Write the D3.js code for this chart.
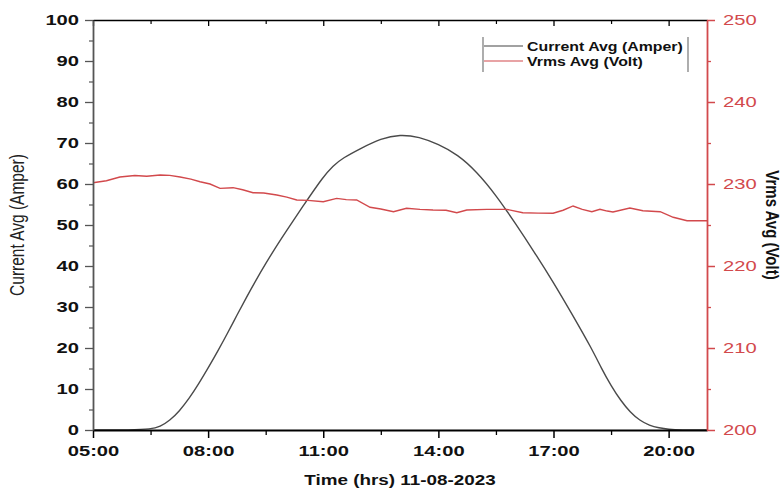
<!DOCTYPE html>
<html><head><meta charset="utf-8">
<script src="https://cdn.jsdelivr.net/npm/d3@7"></script>
<style>body{margin:0;background:#fff}svg{display:block}</style>
</head><body>
<svg id="c" width="783" height="493"></svg>
<script>
const xTicks = [5, 8, 11, 14, 17, 20];
const xMinor = [6.5, 9.5, 12.5, 15.5, 18.5];
const leftTicks = [0,10,20,30,40,50,60,70,80,90,100];
const rightTicks = [200,210,220,230,240,250];

const currentTime = [5,6,6.5,6.75,7,7.25,7.5,7.75,8,8.25,8.5,8.75,9,9.25,9.5,9.75,10,10.5,11,11.25,11.5,12,12.5,13,13.5,14,14.5,15,15.5,16,16.5,17,17.5,18,18.25,18.5,18.75,19,19.25,19.5,19.75,20,20.3,21];
const currentVals = [0,0,0.2,0.8,2.3,4.6,7.6,11.2,15.1,19.2,23.5,28.0,32.4,36.6,40.6,44.4,48.0,55.0,61.8,64.4,66.3,68.8,71.1,72.1,71.5,69.7,67.2,63.0,57.3,50.5,43.4,36.0,28.0,19.8,15.0,10.8,7.2,4.3,2.3,1.1,0.5,0.15,0,0];

const voltTime = [5.0,5.35,5.7,6.09,6.4,6.75,7.0,7.27,7.55,7.79,8.05,8.31,8.65,8.9,9.17,9.45,9.79,10.05,10.31,10.6,11.0,11.35,11.6,11.87,12.22,12.5,12.83,13.17,13.52,13.86,14.2,14.48,14.74,15.26,15.78,16.2,16.6,16.99,17.25,17.51,17.75,18.0,18.21,18.4,18.55,18.99,19.33,19.78,20.12,20.48,21.0];
const voltVals = [230.16,230.4,230.85,231.04,230.95,231.1,231.05,230.85,230.6,230.28,230.0,229.47,229.55,229.3,228.94,228.9,228.66,228.4,228.05,228.0,227.84,228.25,228.1,228.05,227.16,226.95,226.62,227.04,226.91,226.83,226.8,226.5,226.83,226.91,226.91,226.5,226.45,226.43,226.8,227.32,226.9,226.62,226.91,226.7,226.59,227.07,226.74,226.62,225.94,225.52,225.52];

const red = "#d2494c";
const FONT = "Liberation Sans, Arial, sans-serif";
const STRETCH = 1.3;
const m = {l:93, r:707, t:20, b:430};
const svg = d3.select("#c");

const x = d3.scaleLinear().domain([5,21]).range([m.l, m.r]);
const yL = d3.scaleLinear().domain([0,100]).range([m.b, m.t]);
const yR = d3.scaleLinear().domain([200,250]).range([m.b, m.t]);
const fmt = h => String(h).padStart(2,"0") + ":00";

function stretch(sel, f){
  sel.each(function(){
    const w = this.getComputedTextLength();
    d3.select(this).attr("textLength", w*f).attr("lengthAdjust","spacingAndGlyphs");
  });
}

// current line
const curData = currentTime.map((t,i)=>[t,currentVals[i]]);
svg.append("path").datum(curData)
  .attr("fill","none").attr("stroke","#4a4a4a").attr("stroke-width",1.4)
  .attr("d", d3.line().x(d=>x(d[0])).y(d=>yL(d[1])).curve(d3.curveBasis));

// volt line
const vData = voltTime.map((t,i)=>[t,voltVals[i]]);
svg.append("path").datum(vData)
  .attr("fill","none").attr("stroke",red).attr("stroke-width",1.4)
  .attr("d", d3.line().x(d=>x(d[0])).y(d=>yR(d[1])));

// bottom axis
const gB = svg.append("g").attr("transform",`translate(0,${m.b})`)
  .call(d3.axisBottom(x).tickValues(xTicks).tickFormat(fmt).tickSize(8).tickSizeOuter(0).tickPadding(7));
gB.select(".domain").attr("stroke","#000").attr("stroke-width",2.2);
gB.selectAll(".tick line").attr("stroke","#000").attr("stroke-width",1.5);
gB.selectAll("text").attr("font-family",FONT).attr("font-size",15.5).attr("font-weight","bold").attr("fill","#111").call(stretch, STRETCH);
svg.append("g").attr("transform",`translate(0,${m.b})`)
  .call(d3.axisBottom(x).tickValues(xMinor).tickFormat("").tickSize(5).tickSizeOuter(0))
  .call(g=>{g.select(".domain").remove(); g.selectAll("line").attr("stroke","#000").attr("stroke-width",1.3);});

// top axis
const gT = svg.append("g").attr("transform",`translate(0,${m.t})`)
  .call(d3.axisBottom(x).tickValues(xTicks).tickFormat("").tickSize(6).tickSizeOuter(0));
gT.select(".domain").attr("stroke","#000").attr("stroke-width",1.6);
gT.selectAll(".tick line").attr("stroke","#000").attr("stroke-width",1.3);
svg.append("g").attr("transform",`translate(0,${m.t})`)
  .call(d3.axisBottom(x).tickValues(xMinor).tickFormat("").tickSize(4).tickSizeOuter(0))
  .call(g=>{g.select(".domain").remove(); g.selectAll("line").attr("stroke","#000").attr("stroke-width",1.2);});

// left axis
const gL = svg.append("g").attr("transform",`translate(${m.l},0)`)
  .call(d3.axisLeft(yL).tickValues(leftTicks).tickSize(8).tickSizeOuter(0).tickPadding(6));
gL.select(".domain").attr("stroke","#555").attr("stroke-width",1.8);
gL.selectAll(".tick line").attr("stroke","#555").attr("stroke-width",1.3);
gL.selectAll("text").attr("font-family",FONT).attr("font-size",15.5).attr("font-weight","bold").attr("fill","#111").call(stretch, STRETCH);
svg.append("g").attr("transform",`translate(${m.l},0)`)
  .call(d3.axisLeft(yL).tickValues(d3.range(5,100,10)).tickFormat("").tickSize(4).tickSizeOuter(0))
  .call(g=>{g.select(".domain").remove(); g.selectAll("line").attr("stroke","#555").attr("stroke-width",1.2);});

// right axis
const gR = svg.append("g").attr("transform",`translate(${m.r},0)`)
  .call(d3.axisRight(yR).tickValues(rightTicks).tickSize(8).tickSizeOuter(0).tickPadding(8));
gR.select(".domain").attr("stroke",red).attr("stroke-width",1.8);
gR.selectAll(".tick line").attr("stroke",red).attr("stroke-width",1.5);
gR.selectAll("text").attr("font-family",FONT).attr("font-size",15.5).attr("fill",red).call(stretch, STRETCH);
svg.append("g").attr("transform",`translate(${m.r},0)`)
  .call(d3.axisRight(yR).tickValues(d3.range(205,250,10)).tickFormat("").tickSize(4).tickSizeOuter(0))
  .call(g=>{g.select(".domain").remove(); g.selectAll("line").attr("stroke",red).attr("stroke-width",1.3);});

// axis titles
svg.append("text").attr("transform",`translate(24,225) scale(${STRETCH},1) rotate(-90)`)
  .attr("text-anchor","middle").attr("font-family",FONT)
  .attr("font-size",15.5).attr("fill","#222").text("Current Avg (Amper)");
svg.append("text").attr("transform",`translate(766,225) scale(1.2,1) rotate(90)`)
  .attr("text-anchor","middle").attr("font-family",FONT)
  .attr("font-size",15).attr("font-weight","bold").attr("fill","#111").text("Vrms Avg (Volt)");
svg.append("text").attr("x",400).attr("y",485)
  .attr("text-anchor","middle").attr("font-family",FONT)
  .attr("font-size",14.5).attr("font-weight","bold").attr("fill","#111").text("Time (hrs) 11-08-2023")
  .call(stretch, STRETCH);

// legend
const lg = svg.append("g");
lg.append("line").attr("x1",483).attr("x2",483).attr("y1",37).attr("y2",72).attr("stroke","#777").attr("stroke-width",1.2);
lg.append("line").attr("x1",688).attr("x2",688).attr("y1",37).attr("y2",72).attr("stroke","#777").attr("stroke-width",1.2);
const legendItems = [["Current Avg (Amper)","#444"],["Vrms Avg (Volt)",red]];
legendItems.forEach((d,i)=>{
  const yy = 46 + i*15;
  lg.append("line").attr("x1",484).attr("x2",523).attr("y1",yy).attr("y2",yy).attr("stroke",d[1]).attr("stroke-width",1.2);
  lg.append("text").attr("x",527).attr("y",yy+4.5).attr("font-family",FONT)
    .attr("font-size",12.5).attr("font-weight","bold").attr("fill","#111").text(d[0])
    .call(stretch, 1.27);
});
</script>
</body></html>
